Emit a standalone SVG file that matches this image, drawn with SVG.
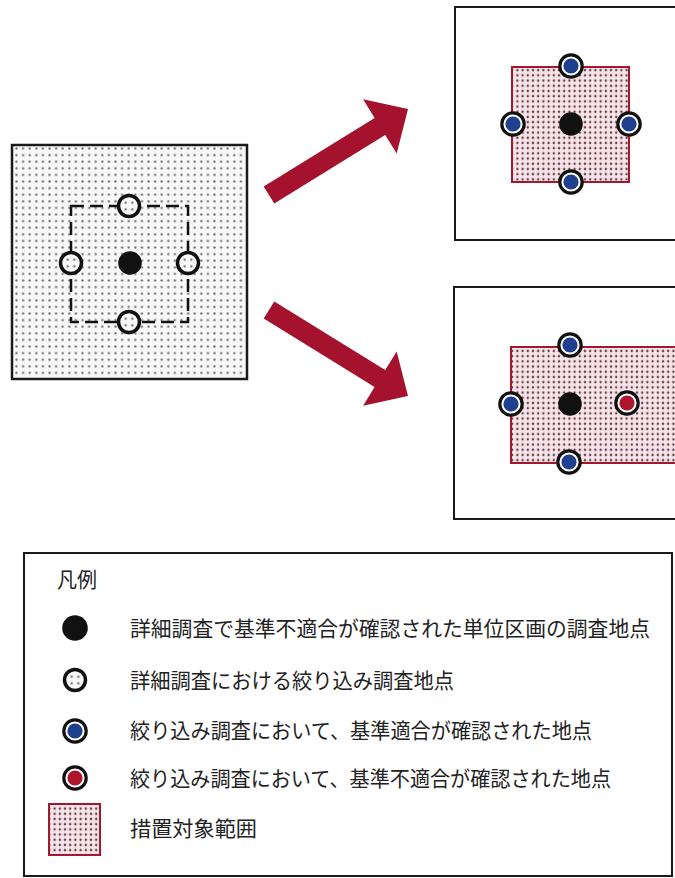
<svg xmlns="http://www.w3.org/2000/svg" width="675" height="878" viewBox="0 0 675 878">
<defs>
  <pattern id="dots" width="6.6" height="6.6" patternUnits="userSpaceOnUse">
    <rect width="6.6" height="6.6" fill="#f8f8f8"/>
    <circle cx="3.3" cy="3.3" r="1.15" fill="#6e6e6e"/>
  </pattern>
  <pattern id="reddots" width="5.2" height="5.2" patternUnits="userSpaceOnUse">
    <rect width="5.2" height="5.2" fill="#f5e4e8"/>
    <circle cx="2.6" cy="2.6" r="1.2" fill="#6a3a46"/>
  </pattern>
  <g id="blueMark">
    <circle r="11.2" fill="#ffffff" stroke="#111" stroke-width="3.2"/>
    <circle r="7.6" fill="#1f3f8f"/>
  </g>
  <g id="redMark">
    <circle r="11.2" fill="#ffffff" stroke="#111" stroke-width="3.2"/>
    <circle r="7.6" fill="#b0142c"/>
  </g>
  <g id="openMark">
    <circle r="10.5" fill="url(#dots)" stroke="#111" stroke-width="3.5"/>
  </g>
  <g id="blackDot">
    <circle r="11.8" fill="#111"/>
  </g>
</defs>
<style>
  .frame { fill: #ffffff; stroke: #1a1a1a; stroke-width: 2; }
  .area { fill: url(#reddots); stroke: #a3182e; stroke-width: 2; }
  .arrow { fill: #a5122d; }
  .label { font-family: "Noto Sans CJK JP", "Noto Sans", sans-serif; font-size: 21px; fill: #222; }
</style>
<rect width="675" height="878" fill="#ffffff"/>

<g id="before">
  <rect x="12" y="145" width="235" height="234" fill="url(#dots)" stroke="#1a1a1a" stroke-width="2.5"/>
  <rect x="71" y="206" width="117" height="116" fill="none" stroke="#111" stroke-width="2.5" stroke-dasharray="13 6"/>
  <use href="#blackDot" x="130" y="263"/>
  <use href="#openMark" x="129" y="206"/>
  <use href="#openMark" x="71" y="263"/>
  <use href="#openMark" x="188" y="263"/>
  <use href="#openMark" x="129" y="322"/>
</g>

<g id="connectors">
  <polygon class="arrow" points="263.7,186.5 374.6,117.9 363.1,99.2 408,109 396.7,153.6 385.2,134.9 274.3,203.5"/>
  <polygon class="arrow" points="263.7,318.5 374.6,387.1 363.1,405.8 408,396 396.7,351.4 385.2,370.1 274.3,301.5"/>
</g>

<g id="result-pass">
  <rect class="frame" x="455" y="7" width="230" height="233"/>
  <rect class="area" x="512" y="67" width="117" height="115"/>
  <use href="#blackDot" x="571" y="124"/>
  <use href="#blueMark" x="571" y="66"/>
  <use href="#blueMark" x="513" y="124"/>
  <use href="#blueMark" x="629" y="124"/>
  <use href="#blueMark" x="571" y="182"/>
</g>

<g id="result-fail">
  <rect class="frame" x="454" y="287" width="230" height="232"/>
  <rect class="area" x="511" y="347" width="180" height="116"/>
  <use href="#blackDot" x="570" y="404"/>
  <use href="#blueMark" x="570" y="345"/>
  <use href="#blueMark" x="511" y="404"/>
  <use href="#redMark" x="627" y="403"/>
  <use href="#blueMark" x="569" y="462"/>
</g>

<g id="legend">
  <rect x="24" y="553" width="648" height="323" fill="#ffffff" stroke="#1a1a1a" stroke-width="2"/>
  <text class="label" x="57" y="587" textLength="40" lengthAdjust="spacingAndGlyphs">凡例</text>
  <circle cx="75" cy="628" r="12.8" fill="#111"/>
  <text class="label" x="130" y="636" textLength="520" lengthAdjust="spacingAndGlyphs">詳細調査で基準不適合が確認された単位区画の調査地点</text>
  <use href="#openMark" x="75" y="680"/>
  <text class="label" x="130" y="688" textLength="324" lengthAdjust="spacingAndGlyphs">詳細調査における絞り込み調査地点</text>
  <use href="#blueMark" x="75" y="731"/>
  <text class="label" x="130" y="738" textLength="462" lengthAdjust="spacingAndGlyphs">絞り込み調査において、基準適合が確認された地点</text>
  <use href="#redMark" x="75" y="778"/>
  <text class="label" x="130" y="786" textLength="481" lengthAdjust="spacingAndGlyphs">絞り込み調査において、基準不適合が確認された地点</text>
  <rect class="area" x="49" y="804" width="51" height="51"/>
  <text class="label" x="130" y="836" textLength="127" lengthAdjust="spacingAndGlyphs">措置対象範囲</text>
</g>
</svg>
